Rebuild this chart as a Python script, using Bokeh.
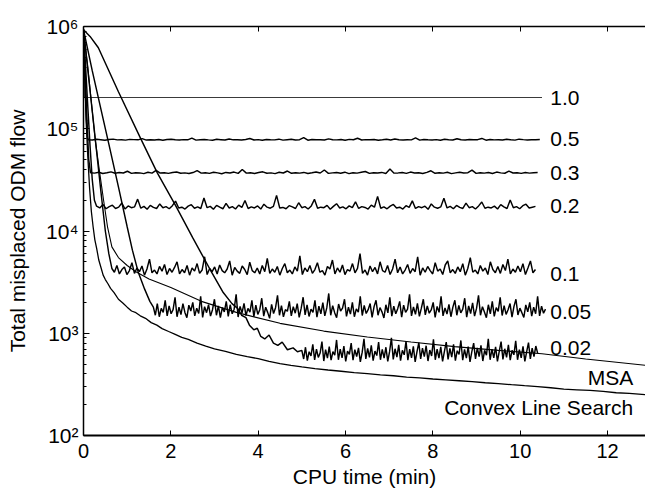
import numpy as np
from bokeh.plotting import figure
from bokeh.models import Range1d, FixedTicker, LinearAxis
from bokeh.embed import file_html
from bokeh.resources import INLINE
from bokeh.core.properties import value

FONT = "Liberation Sans"

x_ticks = [0, 2, 4, 6, 8, 10, 12]
y_exponents = [2, 3, 4, 5, 6]
y_tick_labels = ["10\u00b2", "10\u00b3", "10\u2074", "10\u2075", "10\u2076"]
x_title = "CPU time (min)"
y_title = "Total misplaced ODM flow"

# ---------------- step size 1.0 ----------------
s10_t = [0.0, 0.02, 10.5]
s10_v = [930000, 202000, 202000]

# ---------------- step size 0.5 ----------------
s05_tt = [0.0, 0.03, 0.06, 0.09]
s05_tv = [930000, 350000, 140000, 82000]
s05_span = (0.11, 10.45)
s05_flat = [78200, 77600, 78900, 78100, 77300, 78500, 79200, 77800, 78000, 77400,
            78700, 78300, 77900, 80100, 77500, 78200, 77700, 78600, 77200, 78400,
            79000, 78100, 77600, 78300, 77900, 81000, 77400, 78000, 78600, 77800,
            77300, 78800, 78200, 77600, 79300, 77900, 78100, 77500, 78400, 80200,
            77700, 78300, 77100, 78600, 78000, 77800, 79100, 77400, 78200, 78900,
            77600, 78100, 82000, 77300, 78500, 77900, 78200, 77500, 79600, 78000,
            77800, 78400, 77200, 78700, 78100, 80800, 77600, 78300, 77900, 78500,
            77300, 78000, 78800, 77700, 79400, 78200, 77500, 78100, 77800, 81500,
            77400, 78600, 78000, 77700, 78300, 77100, 78900, 78200, 77600, 79800,
            78000, 77500, 78400, 77900, 78200, 80400, 77300, 78600, 77800, 78100,
            77600, 78800, 78000, 77400, 79100, 78300, 77700, 78200, 77900, 78400]

# ---------------- step size 0.3 ----------------
s03_tt = [0.0, 0.04, 0.08, 0.12]
s03_tv = [930000, 330000, 120000, 50000]
s03_span = (0.16, 10.4)
s03_flat = [37200, 36800, 37600, 36500, 37100, 37900, 36700, 37300, 36900, 38400,
            36600, 37200, 37000, 36400, 37500, 36800, 39200, 36900, 37100, 36600,
            37400, 37800, 36700, 37000, 36500, 37300, 38900, 36800, 37200, 36600,
            37600, 37000, 36300, 37400, 36900, 37700, 36600, 40000, 36800, 37100,
            36500, 37300, 37900, 36700, 37000, 36400, 37500, 36900, 38600, 36700,
            37200, 36800, 37400, 36500, 37100, 37800, 36900, 39500, 36600, 37000,
            37300, 36700, 37600, 36400, 37100, 36800, 37500, 38200, 36600, 37200,
            36900, 37400, 36500, 40300, 36800, 37000, 37300, 36600, 37700, 36900,
            37100, 36500, 37400, 38800, 36700, 37200, 36800, 37500, 36400, 37000,
            37600, 36900, 37200, 39400, 36600, 37100, 36800, 37300, 36500, 37700,
            37000, 36700, 38500, 36900, 37200, 36600, 37400, 36800, 37100, 37300]

# ---------------- step size 0.2 ----------------
s02_tt = [0.0, 0.05, 0.1, 0.15, 0.2, 0.25]
s02_tv = [930000, 390000, 160000, 68000, 32000, 20000]
s02_span = (0.3, 10.35)
s02_flat = [17500, 16800, 18200, 16500, 17300, 17900, 16600, 17100, 18800, 16400,
            17600, 16900, 17200, 20500, 16700, 17400, 16300, 17800, 17000, 16600,
            18400, 16900, 17300, 16500, 17700, 19600, 16800, 17100, 16400, 17500,
            18100, 16700, 17200, 16600, 21000, 16900, 17400, 16300, 17800, 17100,
            16500, 18600, 16800, 17300, 16400, 17900, 17000, 19900, 16600, 17200,
            16800, 17600, 16400, 18300, 17100, 16700, 17400, 22300, 16800, 17000,
            16500, 17700, 17200, 16600, 18900, 16900, 17300, 16400, 17600, 20400,
            16700, 17100, 16900, 17800, 16300, 17400, 18500, 16800, 17200, 16500,
            17600, 16900, 19300, 16600, 17300, 17000, 16400, 17900, 17100, 21800,
            16700, 17200, 16500, 17500, 18200, 16800, 17100, 16400, 17700, 17000,
            19700, 16600, 17300, 16900, 17500, 16300, 18400, 17100, 16700, 17200,
            20900, 16800, 17400, 16500, 17800, 17000, 16600, 18700, 16900, 17300,
            16400, 17600, 19200, 16700, 17100, 16800, 17500, 16400, 18100, 17200,
            16600, 20100, 16900, 17300, 16500, 17700, 18300, 16800, 17100, 17400]

# ---------------- step size 0.1 ----------------
s01_tt = [0.0, 0.1, 0.2, 0.3, 0.4, 0.5, 0.58]
s01_tv = [930000, 370000, 150000, 60000, 24000, 10000, 6000]
s01_span = (0.65, 10.35)
s01_flat = [4300, 3950, 4600, 3800, 4200, 4450, 3750, 4100, 4900, 3850,
            4350, 4000, 4550, 3700, 4250, 5300, 3900, 4150, 3800, 4500,
            4050, 4700, 3750, 4300, 3950, 4400, 5000, 3800, 4200, 3900,
            4600, 3700, 4350, 4050, 4800, 3850, 4150, 5600, 3750, 4300,
            4000, 4450, 3800, 4650, 4100, 3900, 4250, 5100, 3700, 4400,
            4050, 3850, 4550, 4200, 3750, 4950, 4100, 3900, 4350, 3800,
            4600, 4000, 5400, 3850, 4250, 3950, 4500, 3700, 4300, 4800,
            3900, 4150, 3800, 4450, 4050, 5700, 3750, 4350, 4000, 4600,
            3850, 4200, 4900, 3950, 4100, 3700, 4500, 4250, 5200, 3800,
            4350, 3950, 4650, 3750, 4200, 4050, 4800, 3900, 4300, 6000,
            3850, 4150, 3700, 4550, 4000, 4400, 3800, 5000, 4100, 3950,
            4600, 3750, 4250, 5300, 3900, 4450, 3800, 4150, 4700, 3850,
            4300, 4000, 5600, 3700, 4350, 3950, 4500, 4100, 3800, 4900,
            4050, 4250, 3750, 4650, 5100, 3900, 4200, 3850, 4450, 4000,
            4800, 3700, 4300, 5500, 3950, 4150, 3800, 4600, 4050, 4350,
            3750, 5000, 4200, 3900, 4500, 3850, 4700, 4100, 5300, 3800,
            4250, 3950, 4550, 4000, 4800, 3750, 4350, 5100, 3900, 4200]

# ---------------- step size 0.05 ----------------
s005_tt = [0.0, 0.2, 0.4, 0.6, 0.8, 1.0, 1.12, 1.25, 1.4, 1.52]
s005_tv = [930000, 370000, 155000, 65000, 27000, 11000, 6500, 4000, 2700, 2050]
s005_span = (1.6, 10.58)
s005_flat = [1800, 1500, 1950, 1450, 1750, 1600, 2100, 1480, 1850, 1550,
             1700, 2250, 1450, 1800, 1520, 1950, 1600, 1420, 1880, 1650,
             2000, 1480, 1760, 1560, 2300, 1430, 1820, 1590, 1900, 1470,
             1700, 2150, 1500, 1850, 1420, 1780, 1620, 2050, 1460, 1900,
             1550, 1720, 2400, 1440, 1830, 1580, 1960, 1490, 1750, 1610,
             2100, 1450, 1880, 1530, 1700, 2200, 1470, 1800, 1600, 1400,
             1920, 1560, 1780, 2350, 1500, 1860, 1450, 1700, 1640, 2050,
             1480, 1820, 1570, 1950, 1430, 1750, 2250, 1510, 1890, 1460,
             1720, 1600, 2100, 1440, 1840, 1550, 1990, 1480, 1770, 2450,
             1500, 1860, 1590, 1420, 1930, 1650, 1760, 2150, 1460, 1800,
             1540, 2000, 1450, 1730, 1610, 2300, 1490, 1870, 1560, 1700,
             1950, 1430, 1820, 2100, 1500, 1780, 1620, 1410, 1900, 1580,
             2250, 1470, 1840, 1550, 1740, 2050, 1440, 1880, 1600, 1720,
             2400, 1480, 1810, 1530, 1960, 1460, 1760, 2150, 1510, 1850,
             1570, 1690, 2000, 1430, 1830, 1600, 2300, 1480, 1770, 1540,
             1920, 1450, 1800, 2100, 1500, 1870, 1580, 1720, 2200, 1440,
             1850, 1560, 1980, 1470, 1750, 2350, 1500, 1820, 1610, 1420,
             1900, 1550, 2050, 1460, 1780, 1640, 2250, 1490, 1860, 1530,
             1700, 1950, 1440, 1830, 2150, 1510, 1760, 1590, 1430, 1890,
             1620, 2000, 1470, 1800, 1550, 2300, 1480, 1840, 1570, 1720]

# ---------------- step size 0.02 ----------------
s002_tt = [0.0, 0.15, 0.34, 0.8, 1.31, 1.69, 2.11, 2.5, 2.9, 3.2, 3.4, 3.53, 3.62, 3.72, 3.8, 3.9, 3.98, 4.06, 4.15, 4.25,
           4.35, 4.45, 4.55, 4.67, 4.8, 4.9]
s002_tv = [930000, 800000, 620000, 230000, 80000, 37000, 17700, 8600, 4200, 2500, 1950, 1750, 1500, 1420, 1200, 1080, 1120, 930, 880, 960,
           800, 760, 820, 690, 720, 660]
s002_span = (5.0, 10.4)
s002_flat = [680, 560, 730, 540, 660, 600, 780, 550, 700, 580,
             640, 830, 535, 690, 570, 740, 545, 660, 610, 860,
             550, 700, 575, 750, 530, 670, 620, 800, 545, 690,
             590, 720, 525, 650, 880, 560, 710, 580, 760, 540,
             670, 605, 820, 550, 695, 570, 730, 530, 660, 900,
             555, 705, 585, 770, 540, 680, 615, 840, 545, 700,
             575, 745, 525, 660, 810, 560, 715, 590, 755, 535,
             685, 600, 870, 550, 700, 570, 735, 530, 665, 820,
             555, 710, 585, 780, 540, 675, 620, 850, 545, 695,
             570, 740, 525, 660, 800, 560, 720, 590, 760, 535,
             680, 610, 880, 550, 700, 575, 735, 530, 665, 830,
             555, 705, 580, 770, 545, 680, 615, 845, 550, 690,
             575, 745, 530, 660, 810, 560, 715, 590, 750, 640]

# ---------------- MSA ----------------
msa_t = [0.0, 0.1, 0.2, 0.27, 0.36, 0.46, 0.55, 0.65, 0.8, 1.0, 1.2, 1.5, 2.0, 2.7, 3.5, 4.5, 5.5, 6.5, 7.5, 8.5, 9.5, 10.5, 11.5, 12.9]
msa_v = [930000, 400000, 150000, 77000, 40000, 20000, 11000, 7000, 5500, 4600, 4000, 3400, 2800, 2050, 1600, 1250, 1050, 920, 820, 740, 680, 630, 560, 485]

# ---------------- Convex Line Search ----------------
cls_t = [0.0, 0.03, 0.06, 0.1, 0.14, 0.18, 0.22, 0.26, 0.3, 0.35, 0.4, 0.45, 0.5, 0.56, 0.62, 0.7, 0.8, 0.9, 1.0, 1.1,
         1.2, 1.3, 1.42, 1.55, 1.68, 1.8, 1.95, 2.1, 2.25, 2.4, 2.6, 2.8, 3.0, 3.25, 3.5, 3.75, 4.0, 4.25, 4.5, 4.75,
         5.0, 5.3, 5.6, 5.9, 6.2, 6.5, 6.8, 7.1, 7.4, 7.7, 8.0, 8.3, 8.6, 8.9, 9.2, 9.5, 9.8, 10.1, 10.4, 10.7,
         11.0, 11.3, 11.6, 11.9, 12.2, 12.5, 12.9]
cls_v = [930000, 350000, 120000, 52000, 26000, 15500, 11000, 8200, 6800, 5200, 4400, 3700, 3350, 3050, 2750, 2500, 2150, 1980, 1800, 1650,
         1590, 1480, 1400, 1270, 1200, 1110, 1040, 975, 910, 870, 800, 750, 705, 665, 620, 590, 565, 530, 505, 485,
         468, 450, 437, 425, 412, 402, 392, 384, 372, 366, 357, 350, 343, 336, 328, 322, 314, 307, 301, 293,
         284, 280, 276, 270, 262, 258, 250]

# label texts and their vertical anchors
step_labels = ["1.0", "0.5", "0.3", "0.2", "0.1", "0.05", "0.02"]
step_label_y = [202000, 78500, 37300, 17700, 3840, 1600, 710]
step_label_x = 10.69
method_labels = ["MSA", "Convex Line Search"]
method_label_y = [369, 188]
method_label_x = 12.59


def series(tt, tv, span, flat):
    t = list(tt) + list(np.linspace(span[0], span[1], len(flat)))
    v = list(tv) + list(flat)
    return t, v


p = figure(width=645, height=496, y_axis_type="log", output_backend="svg", toolbar_location=None,
           x_range=Range1d(0, 12.87), y_range=Range1d(100, 1e6),
           min_border_left=83, min_border_right=0, min_border_top=26, min_border_bottom=61)
p.outline_line_color = None
p.xgrid.visible = False
p.ygrid.visible = False
p.background_fill_color = "white"
p.border_fill_color = "white"

# thin smooth lines
p.line(s10_t, s10_v, line_color="#3a3a3a", line_width=1.1)
p.line(msa_t, msa_v, line_color="black", line_width=1.1)

for tt, tv, span, flat in [
    (s05_tt, s05_tv, s05_span, s05_flat),
    (s03_tt, s03_tv, s03_span, s03_flat),
    (s02_tt, s02_tv, s02_span, s02_flat),
    (s01_tt, s01_tv, s01_span, s01_flat),
    (s005_tt, s005_tv, s005_span, s005_flat),
    (s002_tt, s002_tv, s002_span, s002_flat),
]:
    t, v = series(tt, tv, span, flat)
    p.line(t, v, line_color="black", line_width=1.45)

p.line(cls_t, cls_v, line_color="black", line_width=1.3)

p.text(x=[step_label_x] * len(step_labels), y=step_label_y, text=step_labels,
       text_font=value(FONT), text_font_size="21px", text_align="left", text_baseline="middle", text_color="black")
p.text(x=[method_label_x] * len(method_labels), y=method_label_y, text=method_labels,
       text_font=value(FONT), text_font_size="21px", text_align="right", text_baseline="middle", text_color="black")

# x axis (bottom)
xa = p.xaxis[0]
xa.ticker = FixedTicker(ticks=x_ticks)
xa.major_tick_in = 5
xa.major_tick_out = 0
xa.minor_tick_in = 0
xa.minor_tick_out = 0
xa.axis_line_width = 2
xa.major_tick_line_width = 1
xa.major_label_text_font = FONT
xa.major_label_text_font_size = "20px"
xa.major_label_text_color = "black"
xa.major_label_standoff = 8
xa.axis_label = x_title
xa.axis_label_text_font = FONT
xa.axis_label_text_font_size = "21px"
xa.axis_label_text_font_style = "normal"
xa.axis_label_text_color = "black"
xa.axis_label_standoff = 4

# top axis
ta = LinearAxis(ticker=FixedTicker(ticks=x_ticks), major_tick_in=5, major_tick_out=0,
                minor_tick_in=0, minor_tick_out=0, axis_line_width=1.5,
                major_label_text_font_size="0px", major_label_standoff=0)
ta.major_label_overrides = {t: "" for t in x_ticks}
p.add_layout(ta, "above")

# left axis
minor = [m * 10 ** e for e in range(2, 6) for m in range(2, 10)]
ya = p.yaxis[0]
ya.ticker = FixedTicker(ticks=[10 ** e for e in y_exponents], minor_ticks=minor)
ya.major_tick_in = 6
ya.major_tick_out = 0
ya.minor_tick_in = 3
ya.minor_tick_out = 0
ya.axis_line_width = 1.5
ya.major_label_overrides = {10 ** e: lab for e, lab in zip(y_exponents, y_tick_labels)}
ya.major_label_text_font = FONT
ya.major_label_text_font_size = "21px"
ya.major_label_text_color = "black"
ya.major_label_standoff = 5
ya.axis_label = y_title
ya.axis_label_text_font = FONT
ya.axis_label_text_font_size = "21px"
ya.axis_label_text_font_style = "normal"
ya.axis_label_text_color = "black"
ya.axis_label_standoff = 14

open("out.html", "w").write(file_html(p, INLINE))
